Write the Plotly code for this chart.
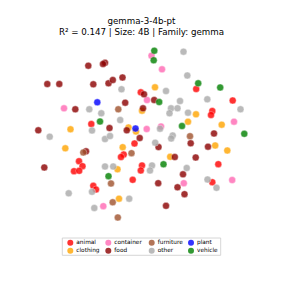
import plotly.graph_objects as go

# ---- data (arbitrary embedding units) ----
categories = ["animal", "clothing", "container", "food", "furniture", "other", "plant", "vehicle"]
colors = ["red", "orange", "hotpink", "darkred", "sienna", "darkgray", "blue", "green"]

animal_x = [91.3, 140.8, 196.2, 232.7, 212.3, 211.0, 134.5, 123.7, 121.0, 142.0, 140.8, 132.7, 79.0, 82.5, 74.0, 79.2, 93.3, 96.0, 218.3, 212.3]
animal_y = [124.0, 92.3, 89.0, 100.5, 111.0, 115.0, 143.5, 154.5, 157.0, 165.5, 170.5, 179.8, 161.2, 166.2, 171.2, 170.8, 185.8, 189.5, 164.2, 182.2]

clothing_x = [70.5, 128.5, 136.0, 155.0, 142.0, 196.0, 188.0, 221.7, 65.3, 122.7, 117.5, 170.2, 119.0, 215.2, 227.3]
clothing_y = [129.3, 127.5, 131.5, 87.3, 110.7, 114.3, 121.7, 124.7, 148.3, 147.2, 169.3, 156.8, 198.7, 145.5, 150.5]

container_x = [64.0, 151.5, 162.0, 147.0, 146.7, 161.0, 234.0, 103.3, 183.8, 232.2]
container_y = [108.3, 55.7, 69.3, 100.0, 129.0, 126.5, 121.7, 206.2, 183.2, 180.0]

food_x = [88.3, 105.0, 103.0, 47.3, 59.3, 93.3, 108.5, 112.8, 122.5, 125.2, 75.3, 38.3, 109.5, 126.8, 144.0, 154.2,
          143.0, 139.7, 158.5, 174.8, 158.2, 166.0, 86.0, 44.3, 214.0, 190.7, 208.0, 195.7, 183.0, 184.5, 177.5]
food_y = [65.7, 62.7, 64.0, 84.0, 84.0, 84.3, 83.3, 80.0, 77.5, 102.7, 109.3, 130.3, 128.0, 130.3, 94.3, 100.0,
          108.3, 138.0, 147.0, 157.0, 183.2, 205.8, 151.3, 167.5, 133.5, 143.3, 146.7, 157.5, 174.3, 194.2, 187.3]

furniture_x = [118.3, 83.3, 131.5, 111.0, 112.7, 117.8, 190.0]
furniture_y = [109.3, 152.5, 153.2, 183.5, 202.3, 217.5, 136.2]

other_x = [121.5, 89.3, 101.3, 120.2, 92.0, 183.5, 166.0, 187.3, 180.0, 171.0, 177.5, 169.5, 207.3, 240.5, 188.0, 160.0,
           49.7, 105.0, 110.0, 172.7, 171.2, 155.2, 152.0, 150.0, 105.0, 113.2, 68.7, 92.0, 94.3, 129.2, 186.7, 207.5, 216.5]
other_y = [89.3, 109.3, 113.3, 120.0, 130.5, 51.7, 91.0, 75.5, 101.0, 108.3, 108.3, 113.3, 99.3, 109.3, 112.7, 128.7,
           136.7, 139.0, 136.0, 135.5, 138.5, 142.7, 165.5, 170.5, 166.5, 166.5, 193.3, 191.8, 208.0, 198.7, 168.0, 179.5, 187.8]

plant_x = [97.3, 135.5]
plant_y = [102.3, 128.5]

vehicle_x = [154.3, 153.7, 159.2, 100.0, 198.2, 220.2, 182.0, 244.3, 163.5, 108.5]
vehicle_y = [50.7, 60.3, 102.0, 121.5, 83.3, 87.5, 126.0, 133.8, 164.3, 176.2]

series_x = [animal_x, clothing_x, container_x, food_x, furniture_x, other_x, plant_x, vehicle_x]
series_y = [animal_y, clothing_y, container_y, food_y, furniture_y, other_y, plant_y, vehicle_y]

title_text = "gemma-3-4b-pt<br>R² = 0.147 | Size: 4B | Family: gemma"

FONT = "DejaVu Sans"
W = H = 283
PAGE_OFF = 8  # page body margin in the browser

fig = go.Figure()
for cat, col, xs, ys in zip(categories, colors, series_x, series_y):
    fig.add_trace(go.Scatter(
        x=xs, y=ys, mode="markers", name=cat, showlegend=False,
        marker=dict(color=col, size=7, opacity=0.8, line=dict(color="white", width=0.4)),
        hoverinfo="skip",
    ))

# ---- legend (matplotlib style, 4 columns x 2 rows, column-major) ----
col_x = [70.3, 108.3, 151.7, 191.0]
row_y = [242.7, 250.7]
lx, ly, tx = [], [], []
for i, cat in enumerate(categories):
    c, r = i // 2, i % 2
    lx.append(col_x[c])
    ly.append(row_y[r])
    tx.append(col_x[c] + 6.0)
fig.add_trace(go.Scatter(
    x=lx, y=ly, mode="markers", showlegend=False, hoverinfo="skip",
    marker=dict(color=colors, size=6, opacity=0.8),
))
fig.add_trace(go.Scatter(
    x=tx, y=ly, mode="text", text=categories, textposition="middle right",
    textfont=dict(family=FONT, size=5.8, color="black"), showlegend=False, hoverinfo="skip",
))
fig.add_shape(type="rect", xref="x", yref="y", x0=62.3, x1=220.7, y0=238.0, y1=255.3,
              line=dict(color="#cccccc", width=0.8), fillcolor="rgba(255,255,255,0.8)", layer="below")

fig.update_layout(
    width=W, height=H,
    margin=dict(l=0, r=0, t=0, b=0),
    paper_bgcolor="white", plot_bgcolor="white",
    title=dict(text=title_text, x=0.5 - PAGE_OFF / W, xanchor="center", y=1 - 16.0 / H, yanchor="top",
               yref="container", font=dict(family=FONT, size=8.7, color="black")),
    xaxis=dict(range=[PAGE_OFF, W + PAGE_OFF], visible=False, fixedrange=True),
    yaxis=dict(range=[H + PAGE_OFF, PAGE_OFF], visible=False, fixedrange=True),
    showlegend=False,
)

fig.write_html("out.html")
